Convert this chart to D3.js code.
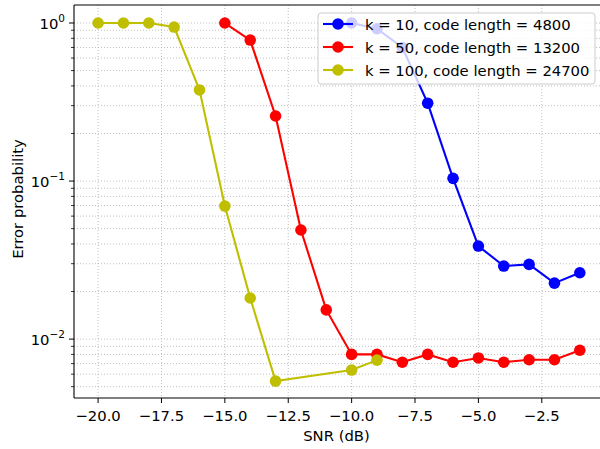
<!DOCTYPE html>
<html><head><meta charset="utf-8">
<script src="https://cdn.jsdelivr.net/npm/d3@7"></script>
<style>body{margin:0;background:#fff;} text{font-family:"DejaVu Sans",sans-serif;}</style>
</head><body>
<svg id="c" width="600" height="449"></svg>
<script>
const snr = [-20,-19,-18,-17,-16,-15,-14,-13,-12,-11,-10,-9,-8,-7,-6,-5,-4,-3,-2,-1];
const k10x = [-10,-9,-8,-7,-6,-5,-4,-3,-2,-1];
const k10y = [1.0,0.92,0.70,0.311,0.104,0.0388,0.029,0.0297,0.0226,0.0263];
const k50x = [-15,-14,-13,-12,-11,-10,-9,-8,-7,-6,-5,-4,-3,-2,-1];
const k50y = [1.0,0.78,0.258,0.049,0.0153,0.0080,0.0080,0.00714,0.0080,0.00714,0.0076,0.00714,0.0074,0.0074,0.0085];
const k100x = [-20,-19,-18,-17,-16,-15,-14,-13,-10,-9];
const k100y = [1.0,1.0,1.0,0.943,0.377,0.0695,0.0182,0.00542,0.00637,0.00736];
const xTicks = [-20,-17.5,-15,-12.5,-10,-7.5,-5,-2.5];
const yMajor = [1,0.1,0.01];
const yMajorExp = ["0","\u22121","\u22122"];
const seriesNames = ["k = 10, code length = 4800","k = 50, code length = 13200","k = 100, code length = 24700"];
const seriesColors = ["#0000ff","#ff0000","#bfbf00"];

const FS = 14.8;
const MR = 5.8;
const svg = d3.select("#c");
const L=74, T=5, B=398, R=603.9;
const x = d3.scaleLinear().domain([-20.95,-0.05]).range([L,R]);
const y = d3.scaleLog().domain([0.00424,1.30]).range([B,T]);

svg.append("clipPath").attr("id","clip").append("rect").attr("x",L).attr("y",T-7).attr("width",R-L).attr("height",B-T+14);

const yMinor=[];
[0.001,0.01,0.1,1].forEach(d=>{for(let m=2;m<=9;m++){const v=d*m; if(v>=0.00424&&v<=1.30) yMinor.push(v);}});

const grid = svg.append("g").attr("stroke","#b0b0b0").attr("stroke-width",0.8).attr("stroke-dasharray","1,2");
xTicks.forEach(t=>grid.append("line").attr("x1",x(t)).attr("x2",x(t)).attr("y1",T).attr("y2",B));
yMajor.concat(yMinor).forEach(t=>grid.append("line").attr("x1",L).attr("x2",600).attr("y1",y(t)).attr("y2",y(t)));

const data=[[k10x,k10y],[k50x,k50y],[k100x,k100y]];
const line=d3.line().x(d=>x(d[0])).y(d=>y(d[1]));
const plot=svg.append("g").attr("clip-path","url(#clip)");
data.forEach((s,i)=>{
  const pts=s[0].map((v,j)=>[v,s[1][j]]);
  plot.append("path").datum(pts).attr("d",line).attr("fill","none").attr("stroke",seriesColors[i]).attr("stroke-width",2.1);
  plot.selectAll(null).data(pts).enter().append("circle").attr("cx",d=>x(d[0])).attr("cy",d=>y(d[1])).attr("r",MR).attr("fill",seriesColors[i]);
});

const ax=svg.append("g").attr("stroke","#000").attr("stroke-width",1.1);
ax.append("line").attr("x1",L).attr("x2",L).attr("y1",T).attr("y2",B);
ax.append("line").attr("x1",L).attr("x2",600).attr("y1",B).attr("y2",B);
ax.append("line").attr("x1",L).attr("x2",600).attr("y1",T).attr("y2",T);

const xa=svg.append("g");
xTicks.forEach(t=>{
  xa.append("line").attr("x1",x(t)).attr("x2",x(t)).attr("y1",B).attr("y2",B+5).attr("stroke","#000");
  xa.append("text").attr("x",x(t)).attr("y",B+23).attr("text-anchor","middle").attr("font-size",FS).text(d3.format(".1f")(t).replace("-","\u2212"));
});
const ya=svg.append("g");
yMajor.forEach((t,i)=>{
  ya.append("line").attr("x1",L-5).attr("x2",L).attr("y1",y(t)).attr("y2",y(t)).attr("stroke","#000");
  const tx=ya.append("text").attr("x",L-9).attr("y",y(t)+6).attr("text-anchor","end").attr("font-size",FS);
  tx.append("tspan").text("10");
  tx.append("tspan").attr("dy",-7).attr("font-size",10.5).text(yMajorExp[i]);
});
yMinor.forEach(t=>ya.append("line").attr("x1",L-3).attr("x2",L).attr("y1",y(t)).attr("y2",y(t)).attr("stroke","#000").attr("stroke-width",0.8));

svg.append("text").attr("x",336.5).attr("y",441).attr("text-anchor","middle").attr("font-size",FS).text("SNR (dB)");
svg.append("text").attr("transform","translate(23,199) rotate(-90)").attr("text-anchor","middle").attr("font-size",FS).text("Error probability");

const lg=svg.append("g");
lg.append("rect").attr("x",318).attr("y",13).attr("width",277).attr("height",71).attr("rx",3).attr("fill","#fff").attr("fill-opacity",0.8).attr("stroke","#cccccc").attr("stroke-width",1);
seriesNames.forEach((n,i)=>{
  const yy=24+i*23;
  lg.append("line").attr("x1",323).attr("x2",353).attr("y1",yy).attr("y2",yy).attr("stroke",seriesColors[i]).attr("stroke-width",2.1);
  lg.append("circle").attr("cx",338).attr("cy",yy).attr("r",MR).attr("fill",seriesColors[i]);
  lg.append("text").attr("x",365).attr("y",yy+5.5).attr("font-size",FS).text(n);
});
</script>
</body></html>
